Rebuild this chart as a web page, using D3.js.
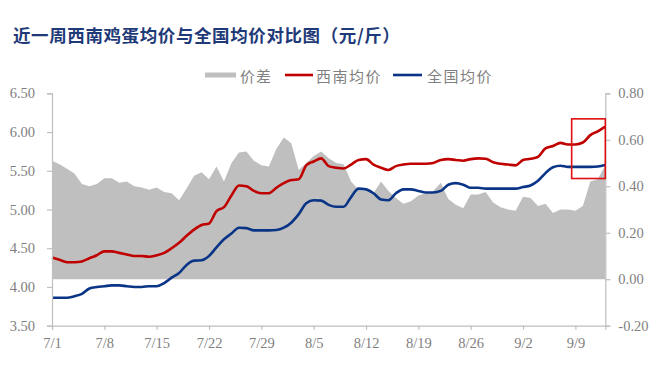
<!DOCTYPE html>
<html>
<head>
<meta charset="utf-8">
<script src="https://cdn.jsdelivr.net/npm/d3@7"></script>
<style>
  html, body { margin: 0; padding: 0; background: #fff; }
  svg { display: block; }
</style>
</head>
<body>
<svg id="chart" width="660" height="374"></svg>
<script>
// ---------------- data ----------------
const title = "近一周西南鸡蛋均价与全国均价对比图（元/斤）";
const legendNames = ["价差", "西南均价", "全国均价"];
// daily categories 7/1 .. 9/13
const startDate = new Date(2024, 6, 1);
const endDate = new Date(2024, 8, 14);
const dates = d3.timeDay.range(startDate, endDate).map(d => (d.getMonth() + 1) + "/" + d.getDate());
const xTickLabels = ["7/1", "7/8", "7/15", "7/22", "7/29", "8/5", "8/12", "8/19", "8/26", "9/2", "9/9"];
const leftTicks = [3.5, 4.0, 4.5, 5.0, 5.5, 6.0, 6.5];
const rightTicks = [-0.2, 0, 0.2, 0.4, 0.6, 0.8];

// 西南均价
const southwest = [
  4.38, 4.35, 4.32, 4.32, 4.33, 4.37, 4.41, 4.46, 4.46, 4.44,
  4.42, 4.40, 4.40, 4.39, 4.41, 4.44, 4.50, 4.57, 4.66, 4.74,
  4.80, 4.82, 4.98, 5.03, 5.18, 5.31, 5.30, 5.24, 5.21, 5.21,
  5.28, 5.34, 5.38, 5.39, 5.57, 5.62, 5.66, 5.56, 5.54, 5.53,
  5.58, 5.64, 5.65, 5.58, 5.54, 5.51, 5.56, 5.58, 5.59, 5.59,
  5.59, 5.60, 5.64, 5.65, 5.64, 5.63, 5.65, 5.66, 5.655, 5.61,
  5.59, 5.58, 5.57, 5.64, 5.655, 5.68, 5.79, 5.82, 5.86, 5.84,
  5.84, 5.865, 5.96, 6.01, 6.07
];
// 全国均价
const national = [
  3.86, 3.86, 3.86, 3.88, 3.91, 3.98, 4.00, 4.01, 4.02, 4.02,
  4.01, 4.00, 4.00, 4.01, 4.01, 4.05, 4.12, 4.18, 4.285, 4.34,
  4.345, 4.40, 4.51, 4.615, 4.69, 4.765, 4.76, 4.73, 4.73, 4.73,
  4.735, 4.765, 4.83, 4.94, 5.08, 5.12, 5.115, 5.06, 5.035, 5.035,
  5.16, 5.27, 5.26, 5.21, 5.13, 5.12, 5.21, 5.26, 5.26, 5.24,
  5.22, 5.22, 5.24, 5.32, 5.34, 5.32, 5.28, 5.28, 5.27, 5.27,
  5.27, 5.27, 5.27, 5.29, 5.31, 5.37, 5.47, 5.545, 5.565, 5.55,
  5.55, 5.55, 5.55, 5.555, 5.575
];
// 价差 (right axis)
const spread = [
  0.51, 0.495, 0.475, 0.455, 0.41, 0.40, 0.41, 0.435, 0.435, 0.415,
  0.42, 0.40, 0.395, 0.385, 0.395, 0.375, 0.37, 0.34, 0.39, 0.445,
  0.46, 0.43, 0.485, 0.42, 0.50, 0.545, 0.55, 0.51, 0.49, 0.485,
  0.56, 0.61, 0.585, 0.47, 0.50, 0.53, 0.55, 0.52, 0.50, 0.495,
  0.42, 0.385, 0.38, 0.37, 0.42, 0.38, 0.35, 0.325, 0.335, 0.36,
  0.37, 0.38, 0.415, 0.345, 0.32, 0.305, 0.365, 0.365, 0.375, 0.33,
  0.31, 0.30, 0.295, 0.355, 0.35, 0.315, 0.325, 0.285, 0.30, 0.30,
  0.295, 0.315, 0.42, 0.43, 0.49
];
// highlight box (category index range, left-axis value range)
const highlightIdx = [69.5, 74];
const highlightVal = [5.40, 6.17];

// ---------------- layout ----------------
const svg = d3.select("#chart");
const plot = { left: 52, right: 605.3, top: 93.3, bottom: 325.7 };
const serif = "'Liberation Serif', 'Times New Roman', serif";
const cjk = "'Noto Sans CJK SC', sans-serif";
const axisColor = "#bfbfbf";
const textColor = "#7f7f7f";
const red = "#c00000";
const blue = "#0a3587";
const grey = "#bfbfbf";

const x = d3.scaleLinear().domain([0, dates.length - 1]).range([plot.left, plot.right]);
const yL = d3.scaleLinear().domain([3.5, 6.5]).range([plot.bottom, plot.top]);
const yR = d3.scaleLinear().domain([-0.2, 0.8]).range([plot.bottom, plot.top]);

// title
svg.append("text")
  .attr("x", 13).attr("y", 34)
  .attr("dominant-baseline", "central")
  .attr("font-family", cjk).attr("font-weight", "bold")
  .attr("font-size", "17.5px").attr("letter-spacing", "0.6px").attr("fill", "#1f3a78")
  .text(title);

// area (价差)
const area = d3.area()
  .x((d, i) => x(i))
  .y0(yR(0))
  .y1(d => yR(d));
svg.append("path").datum(spread)
  .attr("d", area).attr("fill", grey);

// lines
const lineL = d3.line().x((d, i) => x(i)).y(d => yL(d)).curve(d3.curveMonotoneX);
svg.append("path").datum(southwest)
  .attr("d", lineL).attr("fill", "none").attr("stroke", red)
  .attr("stroke-width", 2.6).attr("stroke-linejoin", "round");
svg.append("path").datum(national)
  .attr("d", lineL).attr("fill", "none").attr("stroke", blue)
  .attr("stroke-width", 2.6).attr("stroke-linejoin", "round");

// axes
const tickIdx = xTickLabels.map(l => dates.indexOf(l));
const xAxis = d3.axisBottom(x).tickValues(tickIdx)
  .tickFormat(i => dates[i]).tickSize(4).tickPadding(8);
const gx = svg.append("g").attr("transform", `translate(0,${plot.bottom})`).call(xAxis);

const lAxis = d3.axisLeft(yL).tickValues(leftTicks)
  .tickFormat(d3.format(".2f")).tickSize(5).tickPadding(12);
const gl = svg.append("g").attr("transform", `translate(${plot.left},0)`).call(lAxis);

const rAxis = d3.axisRight(yR).tickValues(rightTicks)
  .tickFormat(d3.format(".2f")).tickSize(5).tickPadding(8);
const gr = svg.append("g").attr("transform", `translate(${plot.right},0)`).call(rAxis);

[gx, gl, gr].forEach(g => {
  g.select(".domain").attr("stroke", axisColor).attr("stroke-width", 1.2);
  g.selectAll(".tick line").attr("stroke", axisColor).attr("stroke-width", 1.2);
  g.selectAll(".tick text").attr("fill", textColor)
    .attr("font-family", serif).attr("font-size", "14.5px");
});
gr.selectAll(".tick text").text(d => d3.format(".2f")(d).replace("−", "-"));

// highlight box
svg.append("rect")
  .attr("x", x(highlightIdx[0]))
  .attr("y", yL(highlightVal[1]))
  .attr("width", x(highlightIdx[1]) - x(highlightIdx[0]))
  .attr("height", yL(highlightVal[0]) - yL(highlightVal[1]))
  .attr("fill", "none").attr("stroke", "#e01010").attr("stroke-width", 1.6);

// legend
const lg = svg.append("g").attr("font-family", cjk).attr("font-size", "15px").attr("fill", textColor);
const ly = 75;
lg.append("rect").attr("x", 205).attr("y", ly - 2.5).attr("width", 31).attr("height", 5).attr("fill", grey);
lg.append("text").attr("x", 240).attr("y", ly).attr("dominant-baseline", "central")
  .attr("letter-spacing", "1px").text(legendNames[0]);
lg.append("line").attr("x1", 285).attr("x2", 313).attr("y1", ly).attr("y2", ly)
  .attr("stroke", red).attr("stroke-width", 2.6);
lg.append("text").attr("x", 316).attr("y", ly).attr("dominant-baseline", "central")
  .attr("letter-spacing", "1.5px").text(legendNames[1]);
lg.append("line").attr("x1", 393).attr("x2", 422).attr("y1", ly).attr("y2", ly)
  .attr("stroke", blue).attr("stroke-width", 2.6);
lg.append("text").attr("x", 427).attr("y", ly).attr("dominant-baseline", "central")
  .attr("letter-spacing", "1.5px").text(legendNames[2]);
</script>
</body>
</html>
